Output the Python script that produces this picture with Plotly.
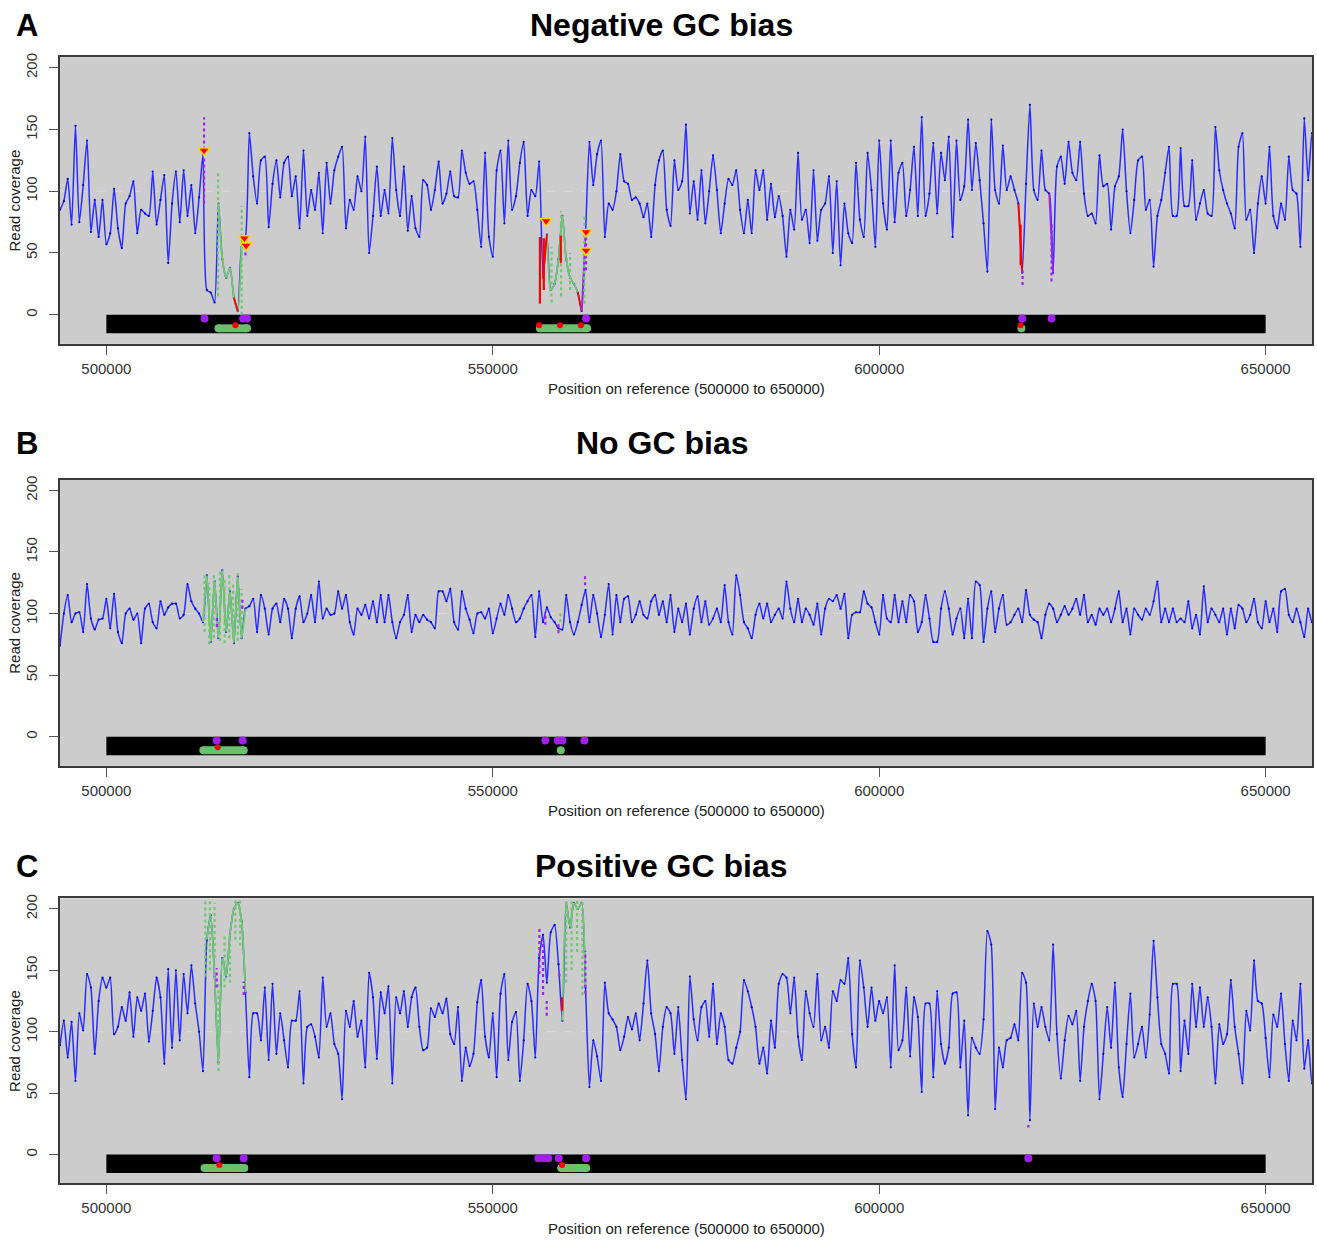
import plotly.graph_objects as go

W, H = 1317, 1240
FONT = "Liberation Sans, Arial, Helvetica, sans-serif"

# ---------------- data ----------------
bin_start = 494000
bin_step = 500

coverage_neg = [
    85, 92, 110, 73, 153, 75, 105, 141, 67, 93, 63, 93, 57, 66, 102, 70, 54, 90, 96, 108,
    66, 85, 82, 80, 116, 73, 93, 113, 42, 90, 116, 75, 117, 80, 105, 66, 95, 130, 20, 18,
    10, 90, 45, 30, 38, 14, 3, 55, 62, 147, 112, 90, 125, 128, 71, 106, 125, 95, 123, 128,
    96, 112, 70, 133, 80, 101, 85, 115, 66, 123, 90, 117, 128, 136, 70, 93, 85, 112, 100, 144,
    50, 80, 120, 80, 101, 82, 143, 101, 80, 120, 68, 96, 70, 63, 109, 105, 85, 101, 124,
    90, 98, 116, 96, 95, 133, 115, 106, 108, 85, 55, 131, 63, 47, 117, 133, 74, 141, 85, 96,
    123, 140, 80, 101, 96, 124, 30, 65, 20, 25, 45, 80, 45, 30, 25, 18, 3, 65, 140, 105,
    130, 141, 63, 90, 85, 100, 130, 108, 106, 93, 95, 90, 79, 90, 63, 105, 125, 133, 85, 72,
    125, 101, 108, 154, 82, 108, 77, 117, 74, 100, 129, 101, 66, 90, 110, 105, 117, 85, 66, 93,
    66, 117, 101, 117, 77, 106, 79, 96, 80, 47, 85, 69, 131, 77, 85, 58, 117, 60, 85, 90,
    112, 50, 108, 40, 90, 66, 58, 123, 77, 63, 131, 101, 55, 141,
    90, 69, 141, 75, 115, 123, 80, 101, 136, 80, 160, 80, 98, 139, 82, 131, 109, 144, 63, 141,
    93, 104, 158, 101, 139, 109, 74, 35, 158, 101, 90, 137, 101, 112, 101, 90, 34, 106, 170, 101,
    93, 133, 101, 98, 34, 120, 128, 106, 140, 115, 109, 140, 98, 80, 82, 74, 129, 104, 106, 69,
    104, 112, 150, 100, 66, 93, 125, 128, 85, 93, 39, 80, 93, 115, 136, 80, 80, 135, 88, 88,
    125, 77, 90, 101, 82, 80, 152, 117, 101, 90, 82, 70, 136, 147, 77, 85, 50, 90, 112, 90,
    136, 80, 70, 90, 77, 128, 101, 98, 55, 159, 109, 147, 125,
]

coverage_none = [
    74, 100, 115, 93, 100, 101, 85, 124, 96, 87, 95, 96, 112, 88, 116, 85, 76, 100, 104, 95,
    100, 76, 104, 108, 93, 88, 110, 99, 105, 108, 108, 96, 99, 124, 110, 104, 100, 93, 131, 77,
    126, 80, 135, 85, 118, 76, 130, 80, 104, 106, 112, 85, 115, 104, 83, 104, 108, 93, 112, 104,
    80, 104, 114, 93, 100, 115, 93, 126, 96, 104, 99, 100, 118, 104, 115, 93, 83, 104, 99, 107,
    96, 110, 93, 115, 93, 115, 93, 80, 93, 99, 115, 85, 99, 93, 99, 95, 93, 88, 118,
    118, 110, 120, 93, 87, 118, 104, 95, 84, 100, 101, 96, 104, 84, 96, 108, 99, 115, 104, 93,
    96, 104, 110, 115, 81, 118, 93, 105, 97, 93, 88, 87, 115, 93, 83, 93, 107, 119, 93, 115,
    100, 81, 99, 124, 83, 115, 93, 112, 114, 93, 99, 110, 99, 96, 110, 115, 99, 110, 93, 115,
    85, 104, 93, 108, 83, 104, 114, 93, 110, 91, 96, 104, 93, 123, 93, 83, 131, 115, 93, 88,
    80, 99, 108, 96, 108, 93, 99, 104, 96, 126, 104, 93, 112, 93, 104, 99, 91, 108, 83, 104,
    112, 110, 115, 104, 116, 80, 99, 101, 101, 118, 108, 105, 93, 83,
    115, 96, 93, 115, 93, 110, 93, 115, 110, 85, 93, 115, 96, 77, 77, 104, 118, 104, 83, 96,
    104, 80, 112, 80, 126, 123, 77, 104, 118, 85, 104, 115, 91, 93, 99, 104, 93, 119, 99, 95,
    93, 80, 99, 108, 104, 93, 99, 106, 99, 104, 112, 99, 115, 93, 99, 91, 104, 99, 104, 93,
    104, 118, 93, 104, 83, 104, 99, 95, 104, 99, 110, 126, 93, 104, 93, 104, 93, 96, 93, 110,
    88, 99, 83, 122, 93, 104, 99, 93, 104, 83, 104, 88, 107, 104, 93, 99, 112, 93, 88, 110,
    93, 104, 85, 118, 120, 99, 93, 104, 93, 81, 104, 93, 99,
]

coverage_pos = [
    89, 109, 79, 108, 60, 115, 101, 147, 136, 82, 125, 144, 136, 144, 98, 104, 120, 109, 132, 96,
    128, 117, 131, 92, 117, 144, 128, 74, 151, 87, 150, 93, 147, 115, 154, 123, 100, 68, 175, 195,
    145, 75, 160, 145, 180, 200, 205, 190, 132, 63, 115, 115, 93, 136, 77, 139, 82, 115, 93, 71,
    109, 109, 133, 58, 104, 106, 96, 79, 144, 104, 115, 90, 82, 45, 117, 104, 125, 96, 109, 71,
    148, 128, 78, 132, 115, 137, 58, 128, 115, 133, 104, 128, 136, 104, 85, 87, 119, 112, 123,
    115, 127, 98, 90, 120, 60, 87, 72, 82, 124, 142, 96, 79, 115, 63, 131, 147, 77, 108, 116,
    60, 93, 139, 125, 79, 160, 179, 140, 181, 187, 155, 109, 205, 185, 205, 200, 205, 136, 55, 93,
    80, 60, 140, 115, 110, 104, 85, 96, 112, 102, 115, 93, 123, 158, 115, 98, 68, 104, 120, 115,
    82, 120, 77, 45, 145, 110, 93, 120, 125, 96, 139, 90, 115, 104, 77, 74, 87, 100, 142, 133,
    120, 104, 74, 87, 66, 109, 87, 139, 147, 144, 115, 144, 96, 77, 133, 115, 104, 147, 93, 104,
    87, 133, 125, 142, 139, 160, 98, 71, 158, 136, 104, 136, 109, 125,
    115, 128, 71, 154, 85, 93, 136, 80, 128, 112, 51, 123, 123, 63, 133, 90, 74, 87, 131, 132,
    71, 109, 32, 95, 87, 82, 110, 182, 171, 37, 87, 71, 93, 95, 106, 93, 148, 140, 28, 123,
    104, 120, 104, 93, 171, 98, 62, 93, 113, 106, 117, 60, 104, 125, 139, 125, 45, 82, 120, 87,
    140, 71, 47, 90, 131, 79, 90, 104, 79, 114, 174, 128, 90, 82, 66, 139, 139, 68, 109, 82,
    139, 104, 136, 104, 128, 104, 58, 106, 90, 98, 142, 104, 82, 58, 117, 101, 158, 125, 123, 95,
    63, 114, 104, 131, 90, 60, 109, 93, 139, 70, 93, 58, 70,
]

x_ticks = [500000, 550000, 600000, 650000]
y_ticks = [0, 50, 100, 150, 200]
track_start, track_end = 500000, 650000
track_low, track_high = -15, 0
ref_level = 100
x_range = [494000, 656000]
y_range = [-23.6, 208.6]

# coloured stretches of the coverage line
neg_green_regions = [(514500, 517500), (557000, 561000)]
neg_red_regions = [(516500, 517000), (556500, 557000), (561000, 561500), (618000, 618500)]
neg_purple_regions = [(561500, 562000), (622000, 622500)]
none_green_regions = [(512500, 518000)]
none_red_regions = []
none_purple_regions = []
pos_green_regions = [(513000, 518000), (559000, 562000)]
pos_red_regions = []
pos_purple_regions = []

# short vertical marks: (position, low, high)
neg_purple_marks = [(512640, 90, 160), (518000, 48, 64), (562070, 36, 68), (618550, 24, 36), (622300, 27, 74)]
neg_red_marks = [(556100, 9, 63), (556600, 20, 62), (558800, 42, 64), (618300, 40, 73)]
neg_green_marks = [(514450, 15, 116), (517510, 0, 88), (557600, 10, 55), (558830, 15, 84),
                   (560000, 20, 50), (561850, 9, 81)]
none_purple_marks = [(514300, 89, 99), (517600, 104, 111), (556800, 91, 101), (558500, 84, 93),
                     (561940, 123, 131)]
none_red_marks = []
none_green_marks = [(512700, 85, 131), (513300, 75, 125), (513900, 80, 132), (514700, 78, 136),
                    (515300, 76, 128), (515900, 80, 133), (516400, 82, 125), (517000, 78, 133),
                    (517500, 85, 120), (558750, 93, 101)]
pos_purple_marks = [(514270, 136, 152), (517770, 130, 141), (556030, 147, 185), (556500, 130, 175),
                    (556980, 113, 125), (558620, 145, 150), (561980, 131, 166), (619300, 22, 24)]
pos_red_marks = [(558960, 117, 128)]
pos_green_marks = [(512800, 145, 208), (513400, 150, 208), (514000, 160, 205), (514500, 68, 140),
                   (515300, 136, 180), (516000, 140, 178), (516700, 175, 208), (517300, 170, 208),
                   (559500, 140, 208), (560200, 150, 208), (560900, 165, 208), (561600, 130, 208)]

# flagged points (triangles), negative bias only
neg_flag_x = [512640, 517860, 518080, 556900, 562070, 562070]
neg_flag_y = [133, 62, 56, 76, 67, 52]

# feature track below the coverage
neg_track_purple = [512700, 517700, 518200, 562070, 618500, 622300]
neg_track_green = [(514500, 518200), (556100, 562200)]
neg_track_green_dots = [618400]
neg_track_red = [516700, 556000, 558700, 561400, 618300]
none_track_purple = [514270, 517630, 556800, 558400, 559000, 561850]
none_track_green = [(512550, 517770)]
none_track_green_dots = [558800]
none_track_red = [514400]
pos_track_purple = [514270, 517770, 555900, 556600, 557200, 558530, 562070, 619300]
pos_track_green = [(512700, 517850), (558850, 562100)]
pos_track_green_dots = []
pos_track_red = [514620, 558960]
track_purple_level = -3
track_red_level = -8.5
track_green_level = -11

BLUE = "#2b2bff"
GREEN = "#72c872"
GREEN_TRACK = "#6dbf6d"
RED = "#ff0000"
PURPLE = "#a020f0"

panels = [
    dict(letter="A", title="Negative GC bias", cov=coverage_neg,
         green=neg_green_regions, red=neg_red_regions, purple=neg_purple_regions,
         pm=neg_purple_marks, rm=neg_red_marks, gm=neg_green_marks,
         fx=neg_flag_x, fy=neg_flag_y,
         tp=neg_track_purple, tg=neg_track_green, tgd=neg_track_green_dots, tr=neg_track_red,
         top=53.3, bottom=341.0, title_y=21.0, letter_y=22.0),
    dict(letter="B", title="No GC bias", cov=coverage_none,
         green=none_green_regions, red=none_red_regions, purple=none_purple_regions,
         pm=none_purple_marks, rm=none_red_marks, gm=none_green_marks,
         fx=[], fy=[],
         tp=none_track_purple, tg=none_track_green, tgd=none_track_green_dots, tr=none_track_red,
         top=477.3, bottom=764.3, title_y=440.0, letter_y=441.0),
    dict(letter="C", title="Positive GC bias", cov=coverage_pos,
         green=pos_green_regions, red=pos_red_regions, purple=pos_purple_regions,
         pm=pos_purple_marks, rm=pos_red_marks, gm=pos_green_marks,
         fx=[], fy=[],
         tp=pos_track_purple, tg=pos_track_green, tgd=pos_track_green_dots, tr=pos_track_red,
         top=897.3, bottom=1183.3, title_y=864.5, letter_y=865.0),
]

positions = [bin_start + bin_step * i for i in range(len(coverage_neg))]

plot_left, plot_right = 60.0, 1312.0


def masked(xs, ys, regions):
    px, py = [], []
    for lo, hi in regions:
        for x, y in zip(xs, ys):
            if lo <= x <= hi:
                px.append(x)
                py.append(y)
        px.append(None)
        py.append(None)
    return px, py


def segs(marks):
    sx, sy = [], []
    for x, a, b in marks:
        sx += [x, x, None]
        sy += [a, b, None]
    return sx, sy


fig = go.Figure()
layout = dict(width=W, height=H, margin=dict(l=0, r=0, t=0, b=0),
              paper_bgcolor="white", plot_bgcolor="#cccccc", showlegend=False,
              font=dict(family=FONT), shapes=[], annotations=[])

for n, p in enumerate(panels, start=1):
    xa = "x" if n == 1 else f"x{n}"
    ya = "y" if n == 1 else f"y{n}"
    cov = p["cov"]

    fig.add_trace(go.Scatter(x=positions, y=cov, mode="lines+markers", xaxis=xa, yaxis=ya,
                             line=dict(color=BLUE, width=1.5, shape="spline", smoothing=0.6),
                             marker=dict(size=2.2, color="#0000d8"), hoverinfo="skip"))
    for regions, col in ((p["green"], GREEN), (p["red"], RED), (p["purple"], PURPLE)):
        if regions:
            gx, gy = masked(positions, cov, regions)
            fig.add_trace(go.Scatter(x=gx, y=gy, mode="lines", xaxis=xa, yaxis=ya,
                                     line=dict(color=col, width=1.8, shape="spline", smoothing=0.6),
                                     hoverinfo="skip"))
    for marks, col, dash in ((p["gm"], GREEN, "dot"), (p["rm"], RED, "solid"), (p["pm"], PURPLE, "dot")):
        if marks:
            sx, sy = segs(marks)
            fig.add_trace(go.Scatter(x=sx, y=sy, mode="lines", xaxis=xa, yaxis=ya,
                                     line=dict(color=col, width=2.2, dash=dash), hoverinfo="skip"))
    if p["fx"]:
        fig.add_trace(go.Scatter(x=p["fx"], y=p["fy"], mode="markers", xaxis=xa, yaxis=ya,
                                 marker=dict(symbol="triangle-down", size=10, color=RED,
                                             line=dict(color="#ffd700", width=1.5)),
                                 hoverinfo="skip"))

    # feature track
    cx, cy = [], []
    for s, e in p["tg"]:
        cx += [s, e, None]
        cy += [track_green_level, track_green_level, None]
    if cx:
        fig.add_trace(go.Scatter(x=cx, y=cy, mode="lines+markers", xaxis=xa, yaxis=ya,
                                 line=dict(color=GREEN_TRACK, width=8),
                                 marker=dict(size=8, color=GREEN_TRACK), hoverinfo="skip"))
    if p["tgd"]:
        fig.add_trace(go.Scatter(x=p["tgd"], y=[track_green_level] * len(p["tgd"]), mode="markers",
                                 xaxis=xa, yaxis=ya, marker=dict(size=8, color=GREEN_TRACK),
                                 hoverinfo="skip"))
    if p["tr"]:
        fig.add_trace(go.Scatter(x=p["tr"], y=[track_red_level] * len(p["tr"]), mode="markers",
                                 xaxis=xa, yaxis=ya, marker=dict(size=6, color=RED),
                                 hoverinfo="skip"))
    fig.add_trace(go.Scatter(x=p["tp"], y=[track_purple_level] * len(p["tp"]), mode="markers",
                             xaxis=xa, yaxis=ya, marker=dict(size=8, color=PURPLE),
                             hoverinfo="skip"))

    ydom = [1 - p["bottom"] / H, 1 - p["top"] / H]
    layout["xaxis" if n == 1 else f"xaxis{n}"] = dict(
        domain=[plot_left / W, plot_right / W], range=x_range, anchor=ya,
        tickvals=x_ticks, ticktext=[str(t) for t in x_ticks],
        ticks="outside", ticklen=9, tickwidth=1.2, tickcolor="#555555",
        ticklabelstandoff=1,
        tickfont=dict(size=15, color="#333333", family=FONT),
        showline=True, mirror=True, linecolor="#3a3a3a", linewidth=1.6,
        showgrid=False, zeroline=False, fixedrange=True)
    layout["yaxis" if n == 1 else f"yaxis{n}"] = dict(
        domain=ydom, range=y_range, anchor=xa,
        tickvals=y_ticks, ticktext=[str(t) for t in y_ticks], tickangle=-90,
        ticks="outside", ticklen=9, tickwidth=1.2, tickcolor="#555555",
        ticklabelstandoff=6,
        tickfont=dict(size=15, color="#333333", family=FONT),
        showline=True, mirror=True, linecolor="#3a3a3a", linewidth=1.6,
        showgrid=False, zeroline=False, fixedrange=True)

    layout["shapes"].append(dict(type="rect", xref=xa, yref=ya, x0=track_start, x1=track_end,
                                 y0=track_low, y1=track_high, fillcolor="black",
                                 line=dict(width=0), layer="below"))
    layout["shapes"].append(dict(type="line", xref=f"{xa} domain", yref=ya, x0=0, x1=1,
                                 y0=ref_level, y1=ref_level,
                                 line=dict(color="#dadada", width=1, dash="dash"), layer="below"))

    layout["annotations"].append(dict(text=f"<b>{p['title']}</b>", x=661.5 / W, y=1 - p["title_y"] / H,
                                      xref="paper", yref="paper", showarrow=False,
                                      xanchor="center", yanchor="middle",
                                      font=dict(size=32, color="black", family=FONT)))
    layout["annotations"].append(dict(text=f"<b>{p['letter']}</b>", x=27 / W, y=1 - p["letter_y"] / H,
                                      xref="paper", yref="paper", showarrow=False,
                                      xanchor="center", yanchor="middle",
                                      font=dict(size=31, color="black", family=FONT)))
    layout["annotations"].append(dict(text="Position on reference (500000 to 650000)",
                                      x=686 / W, y=1 - (p["bottom"] + 45.0) / H,
                                      xref="paper", yref="paper", showarrow=False,
                                      xanchor="center", yanchor="middle",
                                      font=dict(size=15, color="#222222", family=FONT)))
    layout["annotations"].append(dict(text="Read coverage", textangle=-90,
                                      x=15 / W, y=1 - (p["top"] + p["bottom"]) / 2 / H,
                                      xref="paper", yref="paper", showarrow=False,
                                      xanchor="center", yanchor="middle",
                                      font=dict(size=15, color="#222222", family=FONT)))

fig.update_layout(**layout)
fig.write_html("out.html")
